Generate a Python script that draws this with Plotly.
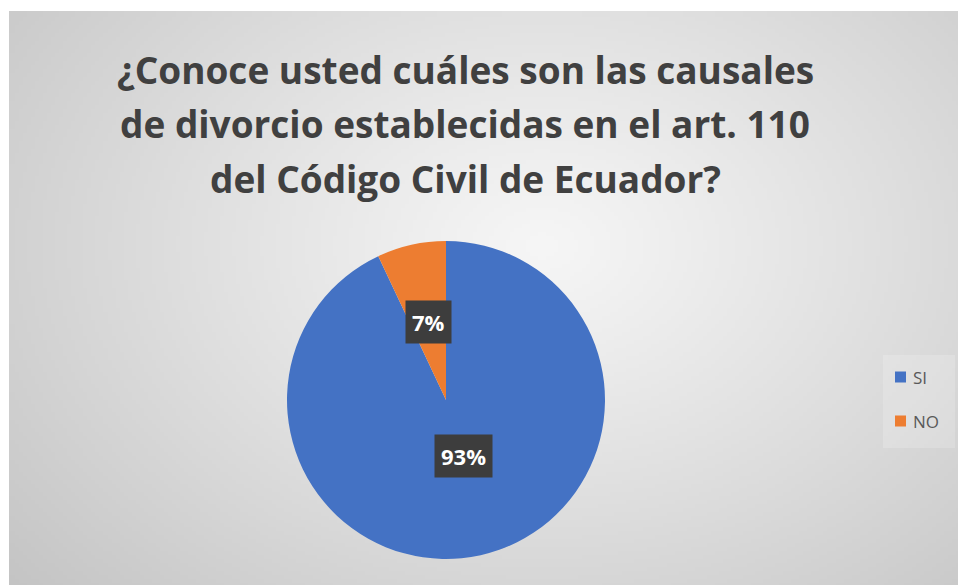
import base64, struct, zlib, math
import numpy as np
import plotly.graph_objects as go

# ---- data ----
labels = ["SI", "NO"]
values = [93, 7]
colors = ["#4472C4", "#ED7D31"]
title_lines = ["¿Conoce usted cuáles son las causales",
               "de divorcio establecidas en el art. 110",
               "del Código Civil de Ecuador?"]

W, H = 966, 585
FONT = "Open Sans"

# ---- radial gradient background as PNG ----
def gradient_png(w, h):
    yy, xx = np.mgrid[0:h, 0:w].astype(float)
    cx, cy = w * 0.55, h * 0.40
    d = np.sqrt(((xx - cx) / (w * 0.60)) ** 2 + ((yy - cy) / (h * 0.72)) ** 2)
    d = np.clip(d / d.max(), 0, 1)
    c0, c1 = 246.0, 196.0
    img = (c0 + (c1 - c0) * d ** 1.1).astype(np.uint8)
    raw = b"".join(b"\x00" + img[r].tobytes() for r in range(h))
    def chunk(t, data):
        c = struct.pack(">I", len(data)) + t + data
        return c + struct.pack(">I", zlib.crc32(t + data) & 0xffffffff)
    png = b"\x89PNG\r\n\x1a\n" + chunk(b"IHDR", struct.pack(">IIBBBBB", w, h, 8, 0, 0, 0, 0)) \
        + chunk(b"IDAT", zlib.compress(raw, 9)) + chunk(b"IEND", b"")
    return "data:image/png;base64," + base64.b64encode(png).decode()

bg = gradient_png(240, 146)

def px(x):
    return x / W

def py(y):
    return 1 - y / H

# pie geometry (pixels)
pcx, pcy, R = 438, 392, 159
dom_x = [px(pcx - R), px(pcx + R)]
dom_y = [py(pcy + R), py(pcy - R)]

fig = go.Figure(go.Pie(
    labels=labels, values=values, sort=False, direction="clockwise", rotation=0,
    marker=dict(colors=colors, line=dict(width=0)),
    textinfo="none", hoverinfo="label+percent",
    domain=dict(x=dom_x, y=dom_y), showlegend=False,
))

annotations = []
shapes = []

# data labels with dark boxes at slice mid-angles (half radius)
total = sum(values)
cum = 0
for i, v in enumerate(values):
    mid = math.radians((cum + v / 2) / total * 360)
    cum += v
    lx = pcx + math.sin(mid) * R * 0.5
    ly = pcy - math.cos(mid) * R * 0.5
    annotations.append(dict(
        x=px(lx), y=py(ly), xref="paper", yref="paper",
        text=f"<b>{round(v / total * 100)}%</b>", showarrow=False, borderpad=6,
        font=dict(family=FONT, size=22, color="white"), bgcolor="#3d3d3d",
    ))

# title (three centred lines)
for k, line in enumerate(title_lines):
    annotations.append(dict(
        x=px(457), y=py(62 + 54 * k), xref="paper", yref="paper",
        xanchor="center", yanchor="middle", text=f"<b>{line}</b>", showarrow=False,
        font=dict(family=FONT, size=37, color="#404040"),
    ))

# legend (squares + labels)
shapes.append(dict(type="rect", xref="paper", yref="paper", layer="below",
                   x0=px(875), x1=px(947), y0=py(347), y1=py(440),
                   fillcolor="rgba(255,255,255,0.18)", line=dict(width=0)))
for i, (lab, col) in enumerate(zip(labels, colors)):
    yc = 369 + 44 * i
    shapes.append(dict(type="rect", xref="paper", yref="paper",
                       x0=px(887), x1=px(898), y0=py(yc + 5.5), y1=py(yc - 5.5),
                       fillcolor=col, line=dict(width=0)))
    annotations.append(dict(x=px(903), y=py(yc), xref="paper", yref="paper",
                            xanchor="left", yanchor="middle", text=lab, showarrow=False,
                            font=dict(family=FONT, size=17, color="#595959")))

fig.update_layout(
    width=W, height=H,
    margin=dict(l=0, r=0, t=0, b=0),
    paper_bgcolor="white",
    images=[dict(source=bg, xref="paper", yref="paper", x=px(1), y=py(3),
                 sizex=1 - 1 / W, sizey=1 - 3 / H, sizing="stretch", layer="below",
                 xanchor="left", yanchor="top")],
    annotations=annotations,
    shapes=shapes,
    showlegend=False,
)

fig.write_html("out.html")
